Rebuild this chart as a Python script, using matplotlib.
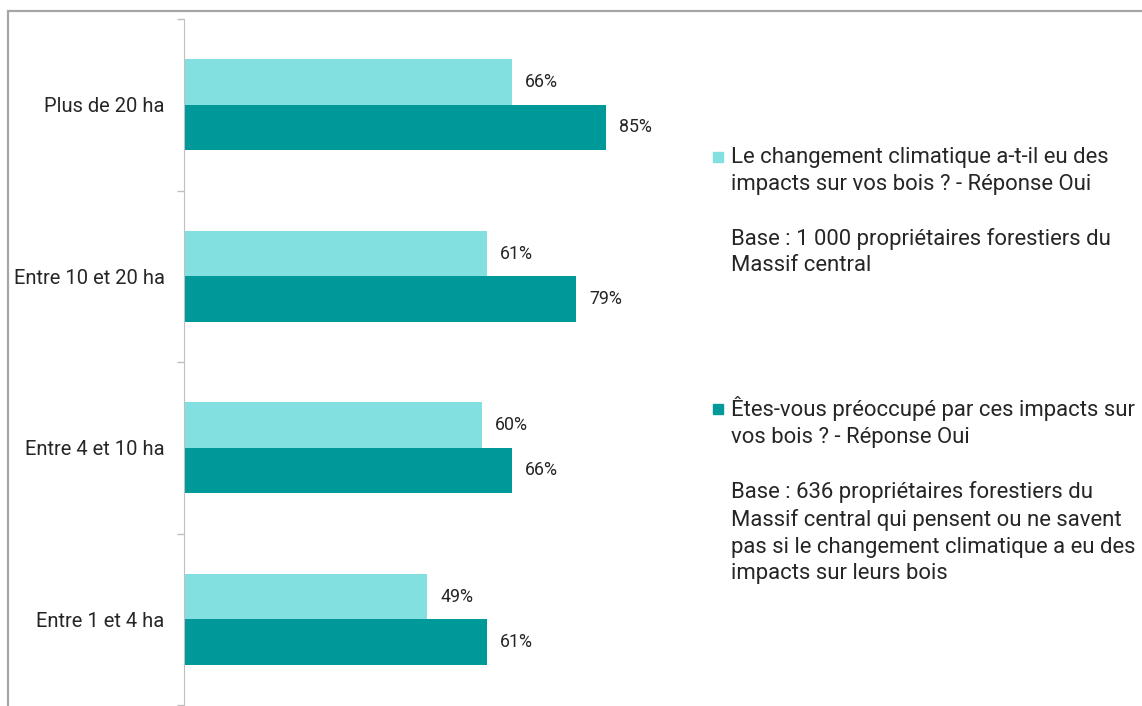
import numpy as np
import matplotlib
matplotlib.use("Agg")
from matplotlib import pyplot as plt
from matplotlib.patches import Rectangle

plt.rcParams['font.family'] = ['Roboto', 'DejaVu Sans']

categories = ["Entre 1 et 4 ha", "Entre 4 et 10 ha", "Entre 10 et 20 ha", "Plus de 20 ha"]
impacts_oui = [49, 60, 61, 66]
preoccupe_oui = [61, 66, 79, 85]

light = "#82E1E0"
dark = "#009999"
textcol = "#262626"

legend1 = ("Le changement climatique a-t-il eu des\nimpacts sur vos bois ? - Réponse Oui\n\n"
           "Base : 1 000 propriétaires forestiers du\nMassif central")
legend2 = ("Êtes-vous préoccupé par ces impacts sur\nvos bois ? - Réponse Oui\n\n"
           "Base : 636 propriétaires forestiers du\nMassif central qui pensent ou ne savent\n"
           "pas si le changement climatique a eu des\nimpacts sur leurs bois")

W, H = 1142, 706
fig = plt.figure(figsize=(W / 100, H / 100), dpi=100)

# grey outer frame (runs off the right and bottom of the picture)
fig.patches.append(Rectangle((8 / W, -0.05), 1.2, 1 - 11 / H + 0.05, transform=fig.transFigure,
                             fill=False, edgecolor="#a6a6a6", linewidth=1.6, clip_on=False))

left = 184 / W
right = (184 + 100 * 4.965) / W
bottom = 1 - 705 / H
top = 1 - 19 / H
ax = fig.add_axes([left, bottom, right - left, top - bottom])

y = np.arange(len(categories))
h = 0.265
b1 = ax.barh(y + h / 2, impacts_oui, height=h, color=light)
b2 = ax.barh(y - h / 2, preoccupe_oui, height=h, color=dark)

for bars, vals in ((b1, impacts_oui), (b2, preoccupe_oui)):
    for bar, v in zip(bars, vals):
        ax.annotate(str(v) + "%", (bar.get_width(), bar.get_y() + bar.get_height() / 2),
                    xytext=(9.5, 0), textcoords="offset points", va="center", ha="left",
                    fontsize=12.8, color=textcol)

ax.set_xlim(0, 100)
ax.set_ylim(-0.5, len(categories) - 0.5)
ax.set_xticks([])
ax.set_yticks(y)
ax.set_yticklabels(categories, fontsize=14.5, color=textcol)
ax.set_yticks(np.arange(-0.5, len(categories)), minor=True)
ax.tick_params(axis="y", which="major", length=0, pad=14)
ax.tick_params(axis="y", which="minor", length=5, color="#bfbfbf", width=1)
for s in ("top", "right", "bottom"):
    ax.spines[s].set_visible(False)
ax.spines["left"].set_color("#bfbfbf")

# legend drawn by hand on the right
for sq_top, txt_top, col, txt in ((152, 147, light, legend1), (404, 396, dark, legend2)):
    fig.patches.append(Rectangle((713 / W, 1 - (sq_top + 10) / H), 10 / W, 10 / H,
                                 transform=fig.transFigure, color=col))
    fig.text(731 / W, 1 - txt_top / H, txt, ha="left", va="top", fontsize=15.9,
             linespacing=1.36, color=textcol)

plt.savefig("out.png", dpi=100)
